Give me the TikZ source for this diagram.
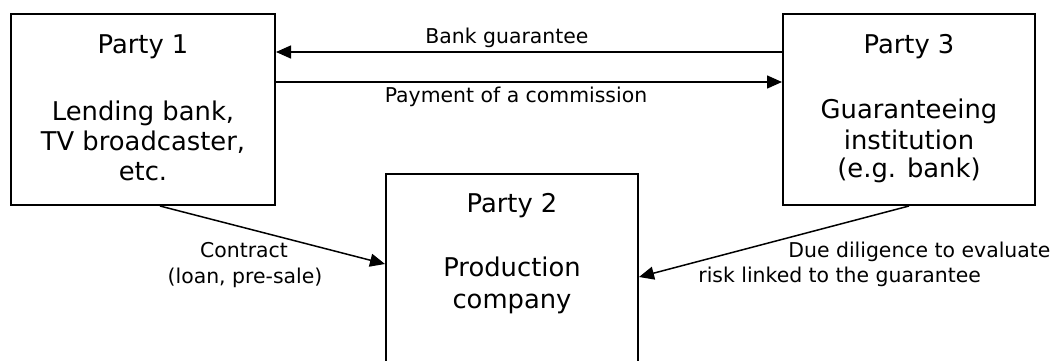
\documentclass[tikz,border=0pt]{standalone}
\usepackage{fontspec}
\setmainfont{DejaVu Sans}
\usetikzlibrary{arrows.meta}

\tikzset{
  party/.style={draw, line width=1pt, rectangle, inner sep=0pt},
  bigtxt/.style={anchor=base, inner sep=0pt, font=\fontsize{12.9}{15}\selectfont},
  smalltxt/.style={anchor=base, inner sep=0pt, font=\fontsize{10.2}{12}\selectfont},
  flow/.style={line width=0.75pt, -{Triangle[length=7.5pt, width=6.5pt]}},
}

\begin{document}
\begin{tikzpicture}[x=0.5pt, y=-0.5pt]
  \useasboundingbox (0,0) rectangle (1064,360);
  \clip (0,0) rectangle (1064,360);

  % the three parties
  \node[party, minimum width=132pt, minimum height=95.5pt] (p1) at (143,109.5) {};
  \node[party, minimum width=126pt, minimum height=95.5pt] (p3) at (909,109.5) {};
  \node[party, minimum width=126pt, minimum height=103pt] (p2) at (512,277) {};

  % Party 1
  \node[bigtxt] (p1a) at (143,53) {Party 1};
  \node[bigtxt] (p1b) at (143,120) {Lending bank,};
  \node[bigtxt] (p1c) at (143,150) {TV broadcaster,};
  \node[bigtxt] (p1d) at (143,180) {etc.};

  % Party 3
  \node[bigtxt] (p3a) at (909,53) {Party 3};
  \node[bigtxt] (p3b) at (909,118) {Guaranteeing};
  \node[bigtxt] (p3c) at (909,149) {institution};
  \node[bigtxt] (p3d) at (909,177) {(e.g. bank)};

  % Party 2
  \node[bigtxt] (p2a) at (512,212) {Party 2};
  \node[bigtxt] (p2b) at (512,276) {Production};
  \node[bigtxt] (p2c) at (512,308) {company};

  % flows between the parties
  \draw[flow] ([yshift=28.75pt]p3.west) -- ([yshift=28.75pt]p1.east);
  \draw[flow] ([yshift=13.75pt]p1.east) -- ([yshift=13.75pt]p3.west);
  \draw[flow] ([xshift=8.5pt]p1.south) -- ([yshift=6.5pt]p2.west);
  \draw[flow] (p3.south) -- (p2.east);

  % flow labels
  \node[smalltxt] (lbg) at (507,43) {Bank guarantee};
  \node[smalltxt] (lpc) at (516,102) {Payment of a commission};
  \node[smalltxt] (lc1) at (244,257) {Contract};
  \node[smalltxt] (lc2) at (245,283) {(loan, pre-sale)};
  \node[smalltxt, anchor=base west] (ld1) at (788,257) {Due diligence to evaluate};
  \node[smalltxt, anchor=base west] (ld2) at (698,282) {risk linked to the guarantee};
\end{tikzpicture}
\end{document}
